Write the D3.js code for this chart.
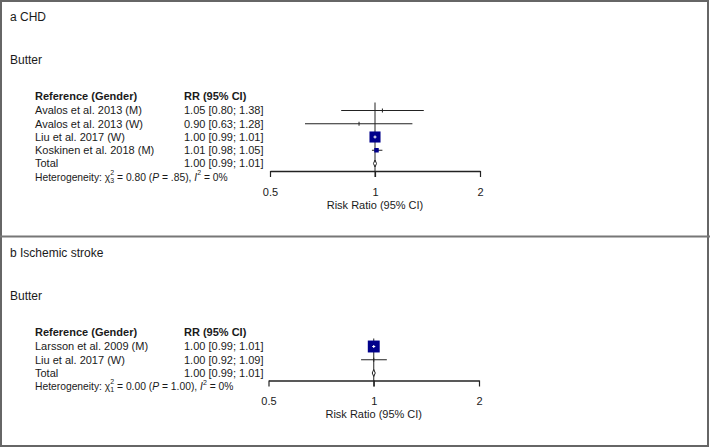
<!DOCTYPE html>
<html>
<head>
<meta charset="utf-8">
<script src="https://cdn.jsdelivr.net/npm/d3@7"></script>
<style>
  body { margin: 0; background: #fff; }
  svg text { font-family: Arial, "Liberation Sans", sans-serif; fill: #1a1a1a; white-space: pre; }
</style>
</head>
<body>
<svg id="chart" width="710" height="448"></svg>
<script>
// panel a - CHD
const chdStudies = ["Avalos et al. 2013 (M)", "Avalos et al. 2013 (W)", "Liu et al. 2017 (W)", "Koskinen et al. 2018 (M)"];
const chdRR      = [1.05, 0.90, 1.00, 1.01];
const chdLower   = [0.80, 0.63, 0.99, 0.98];
const chdUpper   = [1.38, 1.28, 1.01, 1.05];
const chdWeight  = [0.5, 0.5, 85, 14];   // % weight, sets box size
const chdTotal   = [1.00, 0.99, 1.01];   // RR, lower, upper
const chdHet     = {df: "3", chi: "0.80", p: ".85", i2: "0%"};

// panel b - ischemic stroke
const strokeStudies = ["Larsson et al. 2009 (M)", "Liu et al. 2017 (W)"];
const strokeRR      = [1.00, 1.00];
const strokeLower   = [0.99, 0.92];
const strokeUpper   = [1.01, 1.09];
const strokeWeight  = [98.6, 1.4];
const strokeTotal   = [1.00, 0.99, 1.01];
const strokeHet     = {df: "1", chi: "0.00", p: "1.00", i2: "0%"};

const axisTicks = [0.5, 1, 2];

const panels = [
    {title: "a CHD", top: 0, studies: chdStudies, rr: chdRR, lo: chdLower, hi: chdUpper,
     w: chdWeight, total: chdTotal, het: chdHet, x0: 270, x1: 480},
    {title: "b Ischemic stroke", top: 236, studies: strokeStudies, rr: strokeRR, lo: strokeLower, hi: strokeUpper,
     w: strokeWeight, total: strokeTotal, het: strokeHet, x0: 268.5, x1: 479}
];

const svg = d3.select("#chart");
const fmt = d3.format(".2f");
const rowH = 13.25;

function drawPanel(p) {
    const g = svg.append("g").attr("transform", "translate(0," + p.top + ")");
    const x = d3.scaleLog().domain([0.5, 2]).range([p.x0, p.x1]);

    g.append("text").attr("x", 10).attr("y", 17).attr("dy", "0.35em")
        .style("font-size", "12px").text(p.title);
    g.append("text").attr("x", 10).attr("y", 59.5).attr("dy", "0.35em")
        .style("font-size", "12px").text("Butter");

    const headY = 96;
    g.append("text").attr("x", 35).attr("y", headY).attr("dy", "0.35em")
        .style("font-size", "11px").style("font-weight", "bold").text("Reference (Gender)");
    g.append("text").attr("x", 184).attr("y", headY).attr("dy", "0.35em")
        .style("font-size", "11px").style("font-weight", "bold").text("RR (95% CI)");

    const rowY = i => headY + 14.5 + i * rowH;
    const n = p.studies.length;
    const totY = rowY(n);
    const axisY = rowY(n) + 7.5;

    // reference line at 1
    g.append("line").attr("x1", x(1)).attr("x2", x(1))
        .attr("y1", rowY(0) - 8).attr("y2", axisY + 6)
        .attr("stroke", "#222").attr("stroke-width", 1);

    const rows = g.selectAll(".row").data(p.studies).enter().append("g").attr("class", "row");
    rows.append("text").attr("x", 35).attr("y", (d, i) => rowY(i)).attr("dy", "0.35em")
        .style("font-size", "11px").text(d => d);
    rows.append("text").attr("x", 184).attr("y", (d, i) => rowY(i)).attr("dy", "0.35em")
        .style("font-size", "11px")
        .text((d, i) => fmt(p.rr[i]) + " [" + fmt(p.lo[i]) + "; " + fmt(p.hi[i]) + "]");
    rows.append("line")
        .attr("x1", (d, i) => x(p.lo[i])).attr("x2", (d, i) => x(p.hi[i]))
        .attr("y1", (d, i) => rowY(i)).attr("y2", (d, i) => rowY(i))
        .attr("stroke", "#222").attr("stroke-width", 1);
    rows.each(function (d, i) {
        const s = Math.sqrt(p.w[i]) * 1.2;
        const r = d3.select(this);
        if (s < 2) {
            r.append("line").attr("x1", x(p.rr[i])).attr("x2", x(p.rr[i]))
                .attr("y1", rowY(i) - 2).attr("y2", rowY(i) + 2)
                .attr("stroke", "#222").attr("stroke-width", 1);
        } else {
            r.append("rect").attr("x", x(p.rr[i]) - s / 2).attr("y", rowY(i) - s / 2)
                .attr("width", s).attr("height", s).attr("fill", "#00008b");
            if (s > 6) {
                // CI shows through the box in white
                r.append("line").attr("x1", x(p.lo[i])).attr("x2", x(p.hi[i]))
                    .attr("y1", rowY(i)).attr("y2", rowY(i)).attr("stroke", "#fff");
                r.append("line").attr("x1", x(1)).attr("x2", x(1))
                    .attr("y1", rowY(i) - 1.5).attr("y2", rowY(i) + 1.5).attr("stroke", "#fff");
            }
        }
    });

    // total
    g.append("text").attr("x", 35).attr("y", totY).attr("dy", "0.35em")
        .style("font-size", "11px").text("Total");
    g.append("text").attr("x", 184).attr("y", totY).attr("dy", "0.35em")
        .style("font-size", "11px")
        .text(fmt(p.total[0]) + " [" + fmt(p.total[1]) + "; " + fmt(p.total[2]) + "]");
    const dh = 3.5;
    g.append("polygon")
        .attr("points", [[x(p.total[1]), totY], [x(p.total[0]), totY - dh],
                         [x(p.total[2]), totY], [x(p.total[0]), totY + dh]].join(" "))
        .attr("fill", "#fff").attr("stroke", "#222").attr("stroke-width", 1);

    // heterogeneity line with sub/superscripts
    const hy = totY + 13.5;
    let cx = 35;
    function seg(txt, opt) {
        opt = opt || {};
        const t = g.append("text").attr("x", cx).attr("y", hy + (opt.dy || 0)).attr("dy", "0.35em")
            .style("font-size", (opt.size || 10.3) + "px")
            .style("font-style", opt.italic ? "italic" : "normal").text(txt);
        const w = t.node().getComputedTextLength();
        if (!opt.stay) cx += w;
        return w;
    }
    seg("Heterogeneity: χ");
    const w1 = seg("2", {size: 7, dy: -4.5, stay: true});
    const w2 = seg(p.het.df, {size: 7, dy: 3.5});
    cx += Math.max(0, w1 - w2);
    seg(" = " + p.het.chi + " (");
    seg("P", {italic: true});
    seg(" = " + p.het.p + "), ");
    seg("I", {italic: true});
    seg("2", {size: 7, dy: -4});
    seg(" = " + p.het.i2);

    // axis
    const ax = g.append("g").attr("transform", "translate(0," + axisY + ")")
        .call(d3.axisBottom(x).tickValues(axisTicks).tickFormat(d => String(d))
            .tickSize(6).tickSizeOuter(0).tickPadding(11));
    ax.select(".domain").attr("stroke", "#222").attr("stroke-width", 1.5);
    ax.selectAll(".tick line").attr("stroke", "#222").attr("stroke-width", 1.2);
    ax.selectAll(".tick text").style("font-size", "11px").attr("fill", "#1a1a1a");
    g.append("text").attr("x", x(1)).attr("y", axisY + 34).attr("dy", "0.35em")
        .attr("text-anchor", "middle").style("font-size", "11px").text("Risk Ratio (95% CI)");
}

panels.forEach(drawPanel);

// frame
svg.append("rect").attr("x", 1).attr("y", 1).attr("width", 707).attr("height", 445)
    .attr("fill", "none").attr("stroke", "#666").attr("stroke-width", 2);
svg.append("line").attr("x1", 0).attr("x2", 710).attr("y1", 236.5).attr("y2", 236.5)
    .attr("stroke", "#777").attr("stroke-width", 2);
</script>
</body>
</html>
